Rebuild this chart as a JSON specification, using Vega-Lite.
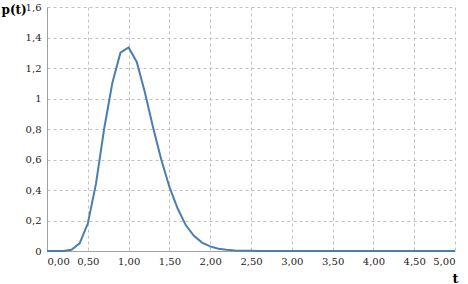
{
  "$schema": "https://vega.github.io/schema/vega-lite/v6.json",
  "width": 408,
  "height": 244,
  "autosize": "none",
  "padding": {"left": 47, "top": 7, "right": 13, "bottom": 33},
  "background": "white",
  "config": {
    "locale": {"number": {"decimal": ",", "thousands": ".", "grouping": [3], "currency": ["", " €"]}},
    "view": {"stroke": null},
    "font": "DejaVu Serif"
  },
  "data": {
    "values": [
      {"t": 0.0, "p": 0}, {"t": 0.1, "p": 0}, {"t": 0.2, "p": 0}, {"t": 0.3, "p": 0.008},
      {"t": 0.4, "p": 0.05}, {"t": 0.5, "p": 0.18}, {"t": 0.6, "p": 0.44}, {"t": 0.7, "p": 0.8},
      {"t": 0.8, "p": 1.1}, {"t": 0.9, "p": 1.3}, {"t": 1.0, "p": 1.335}, {"t": 1.1, "p": 1.24},
      {"t": 1.2, "p": 1.04}, {"t": 1.3, "p": 0.81}, {"t": 1.4, "p": 0.6}, {"t": 1.5, "p": 0.42},
      {"t": 1.6, "p": 0.28}, {"t": 1.7, "p": 0.17}, {"t": 1.8, "p": 0.1}, {"t": 1.9, "p": 0.055},
      {"t": 2.0, "p": 0.03}, {"t": 2.1, "p": 0.015}, {"t": 2.2, "p": 0.008}, {"t": 2.3, "p": 0.004},
      {"t": 2.4, "p": 0.002}, {"t": 2.5, "p": 0.001}, {"t": 2.6, "p": 0}, {"t": 3.0, "p": 0},
      {"t": 3.5, "p": 0}, {"t": 4.0, "p": 0}, {"t": 4.5, "p": 0}, {"t": 5.0, "p": 0}
    ]
  },
  "mark": {"type": "line", "color": "#4a7db0", "strokeWidth": 2},
  "encoding": {
    "x": {
      "field": "t", "type": "quantitative",
      "scale": {"domain": [0, 5], "nice": false, "zero": false},
      "axis": {
        "values": [0, 0.5, 1, 1.5, 2, 2.5, 3, 3.5, 4, 4.5, 5],
        "format": ".2f",
        "title": "t",
        "titleFont": "DejaVu Serif", "titleFontWeight": "bold", "titleFontSize": 13, "titleColor": "#000",
        "titleAngle": 0, "titleX": 408, "titleY": 27, "titleAlign": "center", "titleBaseline": "middle",
        "labelFont": "DejaVu Serif", "labelFontSize": 10, "labelColor": "#222", "labelPadding": 5,
        "ticks": false,
        "domainColor": "#a0a0a0", "domainWidth": 1,
        "grid": true, "gridColor": "#c0c0c0", "gridDash": [3, 3], "gridWidth": 1
      }
    },
    "y": {
      "field": "p", "type": "quantitative",
      "scale": {"domain": [0, 1.6], "nice": false},
      "axis": {
        "values": [0, 0.2, 0.4, 0.6, 0.8, 1, 1.2, 1.4, 1.6],
        "format": ".1~f",
        "title": "p(t)",
        "titleFont": "DejaVu Serif", "titleFontWeight": "bold", "titleFontSize": 12, "titleColor": "#000",
        "titleAngle": 0, "titleX": -46, "titleY": 2, "titleAlign": "left", "titleBaseline": "middle",
        "labelFont": "DejaVu Serif", "labelFontSize": 10, "labelColor": "#222", "labelPadding": 6,
        "ticks": false,
        "domainColor": "#a0a0a0", "domainWidth": 1,
        "grid": true, "gridColor": "#c0c0c0", "gridDash": [3, 3], "gridWidth": 1
      }
    }
  }
}
